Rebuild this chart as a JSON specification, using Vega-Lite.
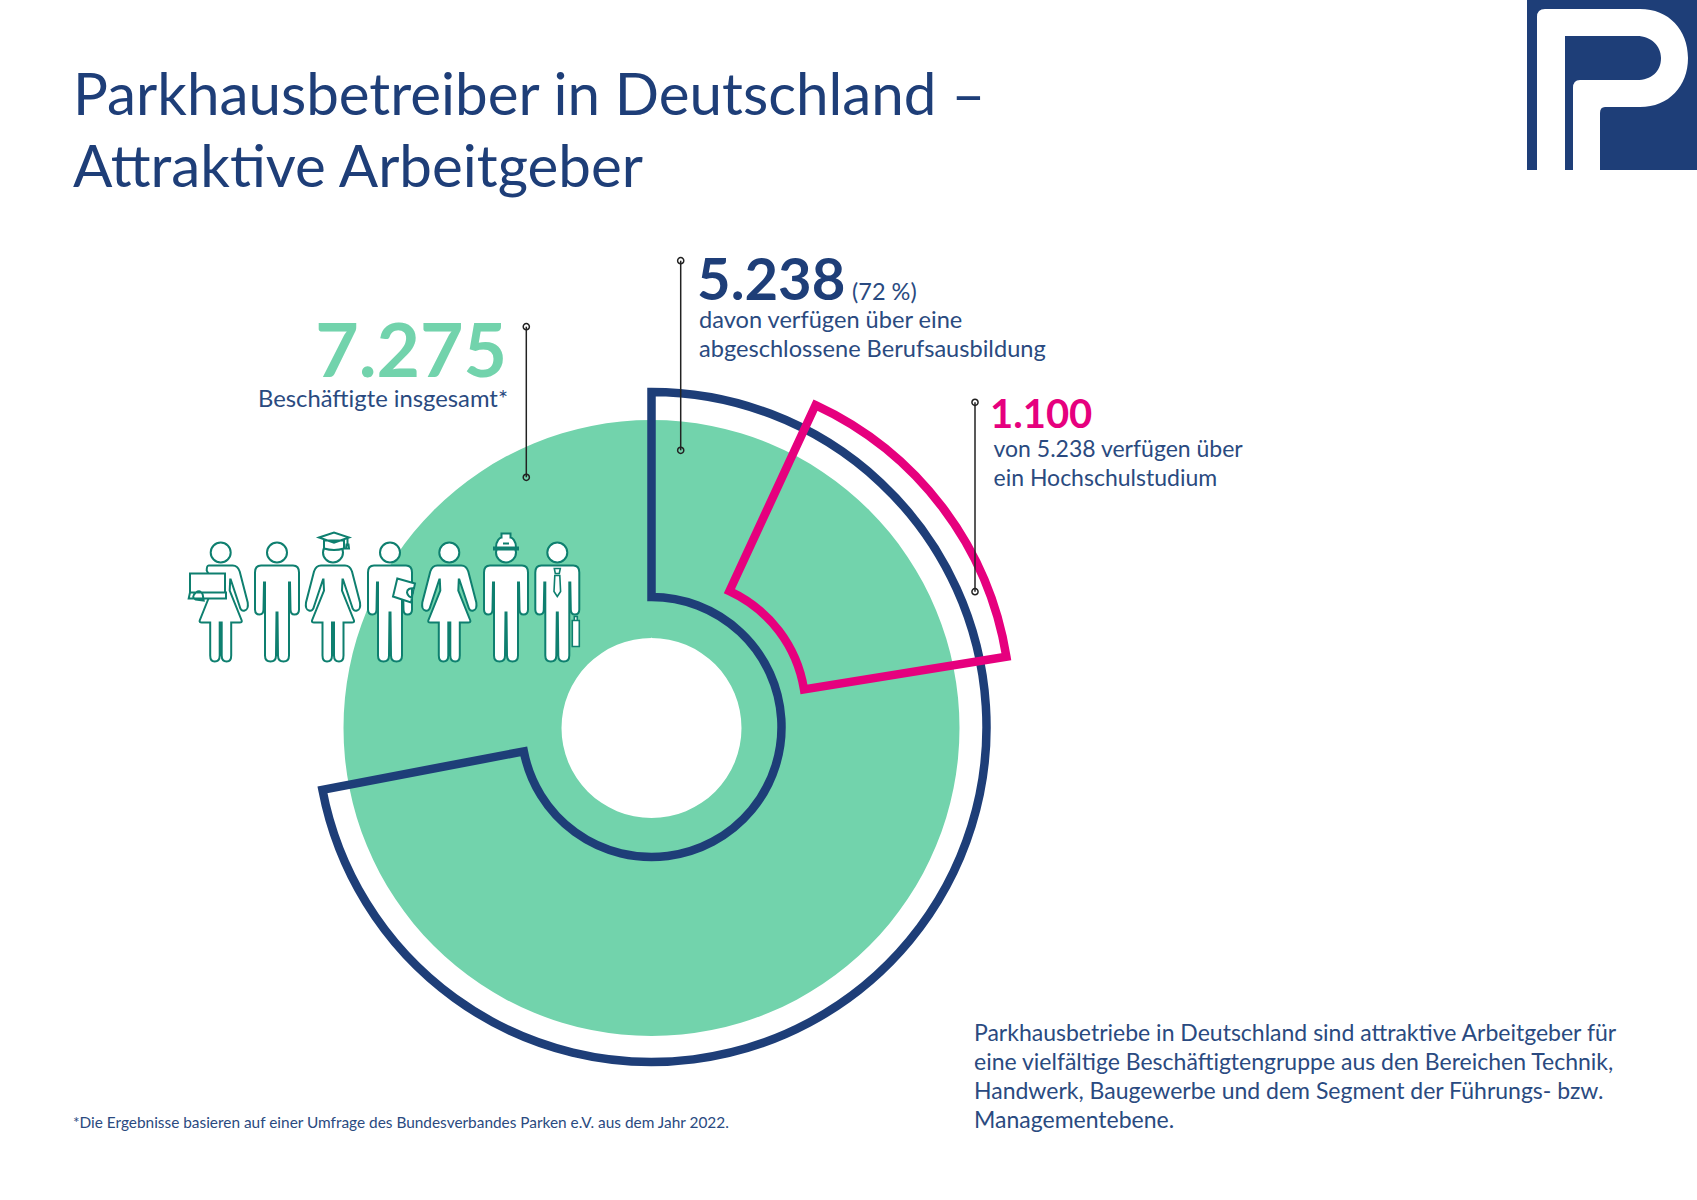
{"$schema":"https://vega.github.io/schema/vega-lite/v6.json","width":1697,"height":1200,"autosize":{"type":"fit","contains":"padding"},"padding":0,"background":"#ffffff","config":{"view":{"stroke":null},"axis":{"disable":true},"text":{"font":"Lato","align":"left","baseline":"alphabetic"}},
"layer":[
{"data":{"values":[{"group":"Beschäftigte insgesamt","start":0,"end":7275}]},"mark":{"type":"arc","innerRadius":90,"outerRadius":308,"fill":"#72D3AC"},"encoding":{"x":{"datum":651.5,"type":"quantitative","scale":{"domain":[0,1697],"range":[0,1697],"nice":false,"zero":false}},"y":{"datum":728,"type":"quantitative","scale":{"domain":[0,1200],"range":[0,1200],"nice":false,"zero":false}},"theta":{"field":"start","type":"quantitative","stack":null,"scale":{"domain":[0,7275],"range":[0,6.283185]}},"theta2":{"field":"end"}}},
{"data":{"values":[{"group":"Berufsausbildung","start":0,"end":5238}]},"mark":{"type":"arc","innerRadius":130,"outerRadius":335,"filled":false,"stroke":"#1E3E78","strokeWidth":8.5,"strokeJoin":"miter"},"encoding":{"x":{"datum":651.5},"y":{"datum":727},"theta":{"field":"start","type":"quantitative","stack":null},"theta2":{"field":"end"}}},
{"data":{"values":[{"group":"Hochschulstudium","start":502,"end":1633}]},"mark":{"type":"arc","innerRadius":131.5,"outerRadius":336.5,"filled":false,"stroke":"#E6007E","strokeWidth":8.5,"strokeJoin":"miter"},"encoding":{"x":{"datum":674.2},"y":{"datum":710.4},"theta":{"field":"start","type":"quantitative","stack":null},"theta2":{"field":"end"}}},
{"data":{"values":[{"n":"7.275"}]},"mark":{"type":"rule","stroke":"#222222","strokeWidth":1.5},"encoding":{"x":{"datum":526.3},"y":{"datum":326.7},"y2":{"datum":477.3}}},
{"data":{"values":[{"n":"5.238"}]},"mark":{"type":"rule","stroke":"#222222","strokeWidth":1.5},"encoding":{"x":{"datum":680.7},"y":{"datum":260.7},"y2":{"datum":450.3}}},
{"data":{"values":[{"n":"1.100"}]},"mark":{"type":"rule","stroke":"#222222","strokeWidth":1.5},"encoding":{"x":{"datum":975},"y":{"datum":402.3},"y2":{"datum":591.7}}},
{"data":{"values":[{"n":"a"}]},"mark":{"type":"point","filled":false,"stroke":"#222222","strokeWidth":1.5,"size":38,"opacity":1},"encoding":{"x":{"datum":526.3},"y":{"datum":326.7}}},
{"data":{"values":[{"n":"b"}]},"mark":{"type":"point","filled":false,"stroke":"#222222","strokeWidth":1.5,"size":38,"opacity":1},"encoding":{"x":{"datum":526.3},"y":{"datum":477.3}}},
{"data":{"values":[{"n":"c"}]},"mark":{"type":"point","filled":false,"stroke":"#222222","strokeWidth":1.5,"size":38,"opacity":1},"encoding":{"x":{"datum":680.7},"y":{"datum":260.7}}},
{"data":{"values":[{"n":"d"}]},"mark":{"type":"point","filled":false,"stroke":"#222222","strokeWidth":1.5,"size":38,"opacity":1},"encoding":{"x":{"datum":680.7},"y":{"datum":450.3}}},
{"data":{"values":[{"n":"e"}]},"mark":{"type":"point","filled":false,"stroke":"#222222","strokeWidth":1.5,"size":38,"opacity":1},"encoding":{"x":{"datum":975},"y":{"datum":402.3}}},
{"data":{"values":[{"n":"f"}]},"mark":{"type":"point","filled":false,"stroke":"#222222","strokeWidth":1.5,"size":38,"opacity":1},"encoding":{"x":{"datum":975},"y":{"datum":591.7}}},
{"data":{"values":[{"person":"Bürokraft"}]},"mark":{"type":"point","shape":"M-10,0 A10,10 0 1,1 10,0 A10,10 0 1,1 -10,0 Z M-12,13 L12,13 Q17,13 19,19 L27,50 Q28,57 24,58 Q20,59 19,54 L10,27 L9.5,27 L9,38 L21,68 Q21.5,70 19,70 L10.5,70 L10.5,103 Q10.5,109 6,109 Q1,109 1,103 L1,70 L-1,70 L-1,103 Q-1,109 -6,109 Q-10.5,109 -10.5,103 L-10.5,70 L-19,70 Q-21.5,70 -21,68 L-9,38 L-12,22 L-14,18 Q-14,13 -12,13 Z","size":4,"filled":true,"fill":"#ffffff","stroke":"#0E7F6F","strokeWidth":2,"opacity":1},"encoding":{"x":{"datum":220.7},"y":{"datum":552.5}}},
{"data":{"values":[{"person":"Bürokraft Laptop"}]},"mark":{"type":"point","shape":"M-30.7,21 L4.3,21 L4.3,40 L-30.7,40 Z M-32,46 L-30.7,40 L5.3,40 L5.3,46 Z M-25,47 Q-30,45 -25,40 Q-20,37 -18,42 L-17,48 Z","size":4,"filled":true,"fill":"#ffffff","stroke":"#0E7F6F","strokeWidth":2,"opacity":1},"encoding":{"x":{"datum":220.7},"y":{"datum":552.5}}},
{"data":{"values":[{"person":"Handwerker"}]},"mark":{"type":"point","shape":"M-10,0 A10,10 0 1,1 10,0 A10,10 0 1,1 -10,0 Z M-16,13 L16,13 Q22,13 22,20 L22,57 Q22,62 17.5,62 Q13.5,62 13.5,57 L13,30 L12,30 L12,103 Q12,109 6.5,109 Q1,109 1,103 L0.5,60 L-0.5,60 L-1,103 Q-1,109 -6.5,109 Q-12,109 -12,103 L-12,30 L-13,30 L-13.5,57 Q-13.5,62 -17.5,62 Q-22,62 -22,57 L-22,20 Q-22,13 -16,13 Z","size":4,"filled":true,"fill":"#ffffff","stroke":"#0E7F6F","strokeWidth":2,"opacity":1},"encoding":{"x":{"datum":277},"y":{"datum":552.5}}},
{"data":{"values":[{"person":"Akademikerin"}]},"mark":{"type":"point","shape":"M-10,0 A10,10 0 1,1 10,0 A10,10 0 1,1 -10,0 Z M-12,13 L12,13 Q17,13 19,19 L27,50 Q28,57 24,58 Q20,59 19,54 L10,27 L9.5,27 L9,38 L21,68 Q21.5,70 19,70 L10.5,70 L10.5,103 Q10.5,109 6,109 Q1,109 1,103 L1,70 L-1,70 L-1,103 Q-1,109 -6,109 Q-10.5,109 -10.5,103 L-10.5,70 L-19,70 Q-21.5,70 -21,68 L-9,38 L-9.5,27 L-10,27 L-19,54 Q-20,59 -24,58 Q-28,57 -27,50 L-19,19 Q-17,13 -12,13 Z","size":4,"filled":true,"fill":"#ffffff","stroke":"#0E7F6F","strokeWidth":2,"opacity":1},"encoding":{"x":{"datum":333},"y":{"datum":552.5}}},
{"data":{"values":[{"person":"Akademikerin Hut"}]},"mark":{"type":"point","shape":"M-9,-12 L-9,-4 Q1,-1 11,-4 L11,-12 Z M-14,-15 L1,-20 L16,-15 L1,-9.7 Z M14.5,-14 L14.5,-6 M13.5,-8 L15.5,-8 L16,-4 L13,-4 Z","size":4,"filled":true,"fill":"#ffffff","stroke":"#0E7F6F","strokeWidth":2,"opacity":1},"encoding":{"x":{"datum":333},"y":{"datum":552.5}}},
{"data":{"values":[{"person":"Techniker"}]},"mark":{"type":"point","shape":"M-10,0 A10,10 0 1,1 10,0 A10,10 0 1,1 -10,0 Z M-16,13 L16,13 Q22,13 22,20 L22,57 Q22,62 17.5,62 Q13.5,62 13.5,57 L13,30 L12,30 L12,103 Q12,109 6.5,109 Q1,109 1,103 L0.5,60 L-0.5,60 L-1,103 Q-1,109 -6.5,109 Q-12,109 -12,103 L-12,30 L-13,30 L-13.5,57 Q-13.5,62 -17.5,62 Q-22,62 -22,57 L-22,20 Q-22,13 -16,13 Z","size":4,"filled":true,"fill":"#ffffff","stroke":"#0E7F6F","strokeWidth":2,"opacity":1},"encoding":{"x":{"datum":390},"y":{"datum":552.5}}},
{"data":{"values":[{"person":"Techniker Klemmbrett"}]},"mark":{"type":"point","shape":"M7.3,26 L25,31 L21,50 L3,44 Z M25,36 Q17,35 17,40 Q18,45 23,45","size":4,"filled":true,"fill":"#ffffff","stroke":"#0E7F6F","strokeWidth":2,"opacity":1},"encoding":{"x":{"datum":390},"y":{"datum":552.5}}},
{"data":{"values":[{"person":"Angestellte"}]},"mark":{"type":"point","shape":"M-10,0 A10,10 0 1,1 10,0 A10,10 0 1,1 -10,0 Z M-12,13 L12,13 Q17,13 19,19 L27,50 Q28,57 24,58 Q20,59 19,54 L10,27 L9.5,27 L9,38 L21,68 Q21.5,70 19,70 L10.5,70 L10.5,103 Q10.5,109 6,109 Q1,109 1,103 L1,70 L-1,70 L-1,103 Q-1,109 -6,109 Q-10.5,109 -10.5,103 L-10.5,70 L-19,70 Q-21.5,70 -21,68 L-9,38 L-9.5,27 L-10,27 L-19,54 Q-20,59 -24,58 Q-28,57 -27,50 L-19,19 Q-17,13 -12,13 Z","size":4,"filled":true,"fill":"#ffffff","stroke":"#0E7F6F","strokeWidth":2,"opacity":1},"encoding":{"x":{"datum":449.3},"y":{"datum":552.5}}},
{"data":{"values":[{"person":"Bauarbeiter"}]},"mark":{"type":"point","shape":"M-10,0 A10,10 0 1,1 10,0 A10,10 0 1,1 -10,0 Z M-16,13 L16,13 Q22,13 22,20 L22,57 Q22,62 17.5,62 Q13.5,62 13.5,57 L13,30 L12,30 L12,103 Q12,109 6.5,109 Q1,109 1,103 L0.5,60 L-0.5,60 L-1,103 Q-1,109 -6.5,109 Q-12,109 -12,103 L-12,30 L-13,30 L-13.5,57 Q-13.5,62 -17.5,62 Q-22,62 -22,57 L-22,20 Q-22,13 -16,13 Z","size":4,"filled":true,"fill":"#ffffff","stroke":"#0E7F6F","strokeWidth":2,"opacity":1},"encoding":{"x":{"datum":506},"y":{"datum":552.5}}},
{"data":{"values":[{"person":"Bauarbeiter Helm"}]},"mark":{"type":"point","shape":"M-10,-5 C-10,-12 -6,-15 -4.5,-15 L-4.5,-19 L4.5,-19 L4.5,-15 C6,-15 10,-12 10,-5 Z M-12,-5 L12,-5 L12,-3 L-12,-3 Z M-3,-9 L3,-9","size":4,"filled":true,"fill":"#ffffff","stroke":"#0E7F6F","strokeWidth":2,"opacity":1},"encoding":{"x":{"datum":506},"y":{"datum":552.5}}},
{"data":{"values":[{"person":"Manager"}]},"mark":{"type":"point","shape":"M-10,0 A10,10 0 1,1 10,0 A10,10 0 1,1 -10,0 Z M-16,13 L16,13 Q22,13 22,20 L22,57 Q22,62 17.5,62 Q13.5,62 13.5,57 L13,30 L12,30 L12,103 Q12,109 6.5,109 Q1,109 1,103 L0.5,60 L-0.5,60 L-1,103 Q-1,109 -6.5,109 Q-12,109 -12,103 L-12,30 L-13,30 L-13.5,57 Q-13.5,62 -17.5,62 Q-22,62 -22,57 L-22,20 Q-22,13 -16,13 Z","size":4,"filled":true,"fill":"#ffffff","stroke":"#0E7F6F","strokeWidth":2,"opacity":1},"encoding":{"x":{"datum":557.3},"y":{"datum":552.5}}},
{"data":{"values":[{"person":"Manager Krawatte und Koffer"}]},"mark":{"type":"point","shape":"M-3,16 L3,16 L2,21 L-2,21 Z M-2.5,23 L2.5,23 L3.3,39 L0,44 L-3.3,39 Z M15,68 L22,68 L22,94 L15,94 Z M17,68 L17,64 L20,64 L20,68","size":4,"filled":true,"fill":"#ffffff","stroke":"#0E7F6F","strokeWidth":1.6,"opacity":1},"encoding":{"x":{"datum":557.3},"y":{"datum":552.5}}},
{"data":{"values":[{"logo":"Bundesverband Parken Feld"}]},"mark":{"type":"point","shape":"M0,0 L170,0 L170,170 L0,170 Z","size":4,"filled":true,"fill":"#1E3E78","opacity":1},"encoding":{"x":{"datum":1527},"y":{"datum":0}}},
{"data":{"values":[{"logo":"Bundesverband Parken P"}]},"mark":{"type":"point","shape":"M10,170 L10,17 Q10,9 18,9 L113,9 C142,9 161,30 161,58 C161,86 142,107 113,107 L78,107 Q73,107 73,113 L73,170 L46,170 L46,88 Q46,80 53,80 L110,80 C124,80 134,72 134,58 C134,46 124,36 110,36 L38,36 L38,170 Z","size":4,"filled":true,"fill":"#ffffff","opacity":1},"encoding":{"x":{"datum":1527},"y":{"datum":0}}},
{"data":{"values":[{"t":"Parkhausbetreiber in Deutschland –\nAttraktive Arbeitgeber"}]},"mark":{"type":"text","fontSize":58.3,"color":"#1E3E78","lineBreak":"\n","lineHeight":72},"encoding":{"x":{"datum":73},"y":{"datum":115},"text":{"field":"t"}}},
{"data":{"values":[{"t":"7.275"}]},"mark":{"type":"text","fontSize":75,"fontWeight":"bold","color":"#72D3AC","align":"right"},"encoding":{"x":{"datum":507},"y":{"datum":377},"text":{"field":"t"}}},
{"data":{"values":[{"t":"Beschäftigte insgesamt*"}]},"mark":{"type":"text","fontSize":23.8,"color":"#2A4A80","align":"right"},"encoding":{"x":{"datum":508},"y":{"datum":407},"text":{"field":"t"}}},
{"data":{"values":[{"t":"5.238"}]},"mark":{"type":"text","fontSize":58,"fontWeight":"bold","color":"#1E3E78"},"encoding":{"x":{"datum":697},"y":{"datum":300},"text":{"field":"t"}}},
{"data":{"values":[{"t":"(72 %)"}]},"mark":{"type":"text","fontSize":23.5,"color":"#2A4A80"},"encoding":{"x":{"datum":852},"y":{"datum":300},"text":{"field":"t"}}},
{"data":{"values":[{"t":"davon verfügen über eine\nabgeschlossene Berufsausbildung"}]},"mark":{"type":"text","fontSize":23.6,"color":"#2A4A80","lineBreak":"\n","lineHeight":29},"encoding":{"x":{"datum":699},"y":{"datum":328},"text":{"field":"t"}}},
{"data":{"values":[{"t":"1.100"}]},"mark":{"type":"text","fontSize":40,"fontWeight":"bold","color":"#E6007E"},"encoding":{"x":{"datum":990},"y":{"datum":427.5},"text":{"field":"t"}}},
{"data":{"values":[{"t":"von 5.238 verfügen über\nein Hochschulstudium"}]},"mark":{"type":"text","fontSize":23,"color":"#2A4A80","lineBreak":"\n","lineHeight":29},"encoding":{"x":{"datum":993.5},"y":{"datum":456.5},"text":{"field":"t"}}},
{"data":{"values":[{"t":"Parkhausbetriebe in Deutschland sind attraktive Arbeitgeber für\neine vielfältige Beschäftigtengruppe aus den Bereichen Technik,\nHandwerk, Baugewerbe und dem Segment der Führungs- bzw.\nManagementebene."}]},"mark":{"type":"text","fontSize":23,"color":"#2A4A80","lineBreak":"\n","lineHeight":29},"encoding":{"x":{"datum":974},"y":{"datum":1041},"text":{"field":"t"}}},
{"data":{"values":[{"t":"*Die Ergebnisse basieren auf einer Umfrage des Bundesverbandes Parken e.V. aus dem Jahr 2022."}]},"mark":{"type":"text","fontSize":15.4,"color":"#2A4A80"},"encoding":{"x":{"datum":73},"y":{"datum":1128},"text":{"field":"t"}}}
]}
